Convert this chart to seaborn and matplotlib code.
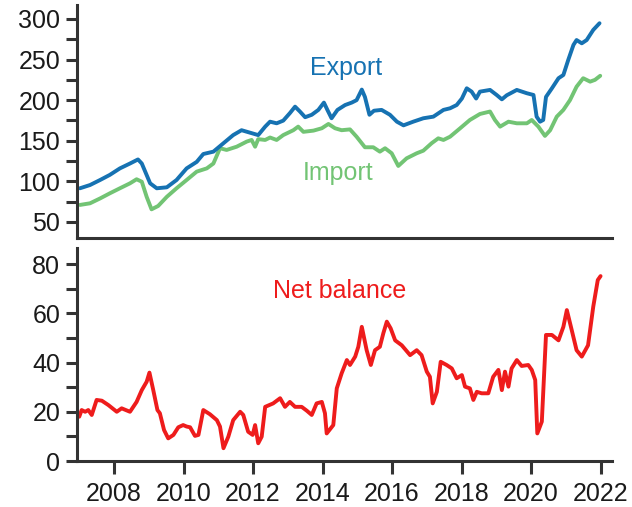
import matplotlib
matplotlib.use("Agg")
import matplotlib.pyplot as plt
from matplotlib.ticker import MultipleLocator
import pandas as pd
import seaborn as sns

# Export index (decimal year, value)
export_years = [2007.02, 2007.31, 2007.60, 2007.88, 2008.17, 2008.46, 2008.69, 2008.80,
                2009.04, 2009.23, 2009.52, 2009.80, 2010.09, 2010.38, 2010.57, 2010.86,
                2011.15, 2011.43, 2011.67, 2011.91, 2012.15, 2012.35, 2012.49, 2012.68,
                2012.87, 2013.06, 2013.21, 2013.35, 2013.50, 2013.69, 2013.88, 2014.04,
                2014.14, 2014.26, 2014.43, 2014.65, 2014.84, 2014.98, 2015.13, 2015.22,
                2015.35, 2015.48, 2015.70, 2015.94, 2016.14, 2016.33, 2016.61, 2016.90,
                2017.19, 2017.48, 2017.67, 2017.86, 2018.01, 2018.15, 2018.29, 2018.42,
                2018.53, 2018.82, 2019.01, 2019.16, 2019.30, 2019.59, 2019.88, 2020.07,
                2020.16, 2020.26, 2020.35, 2020.43, 2020.60, 2020.79, 2020.93, 2021.07,
                2021.22, 2021.31, 2021.46, 2021.60, 2021.79, 2021.97]
export_vals = [91.5, 95.5, 101.7, 108, 116, 122, 127, 122,
               97.6, 91.5, 92.7, 101.7, 116, 124, 133.7, 136.6,
               147, 157, 163, 160, 157, 167.4, 173.5, 171.5,
               174.8, 184, 192, 186, 179, 182, 188, 197,
               188, 177.7, 188, 194, 197, 200, 213, 204,
               182, 187, 188, 182, 173.5, 169, 173.5, 177.7,
               179.7, 188, 190, 194, 202, 214.6, 210.5, 202,
               210.5, 212.6, 206.4, 201, 206, 212.6, 208.5, 206.4,
               179.7, 173.5, 175.6, 204, 214.6, 227, 231, 249.5,
               268, 274, 270, 274, 286.5, 294.7]

# Import index (decimal year, value)
import_years = [2007.02, 2007.31, 2007.60, 2007.88, 2008.17, 2008.46, 2008.65, 2008.80,
                2008.94, 2009.08, 2009.27, 2009.52, 2009.80, 2010.09, 2010.38, 2010.67,
                2010.86, 2011.05, 2011.24, 2011.53, 2011.82, 2011.96, 2012.06, 2012.15,
                2012.35, 2012.49, 2012.68, 2012.87, 2013.16, 2013.30, 2013.45, 2013.74,
                2013.98, 2014.17, 2014.36, 2014.55, 2014.79, 2014.98, 2015.22, 2015.46,
                2015.65, 2015.80, 2015.99, 2016.18, 2016.42, 2016.71, 2016.90, 2017.14,
                2017.33, 2017.48, 2017.67, 2017.96, 2018.24, 2018.53, 2018.82, 2018.96,
                2019.11, 2019.35, 2019.59, 2019.88, 2020.02, 2020.21, 2020.40, 2020.55,
                2020.74, 2020.93, 2021.12, 2021.31, 2021.50, 2021.70, 2021.84, 2021.99]
import_vals = [71, 73, 79, 85.3, 91.5, 97.6, 102.6, 99.6,
               81, 65.6, 69.7, 81, 91.5, 101.7, 112, 116,
               122, 140.8, 138.7, 142.7, 149, 151, 142.7, 152,
               151, 154, 151, 157, 163, 167.4, 161, 162.5,
               165.4, 170.7, 165.4, 163, 164, 155, 142, 142,
               136.6, 140.8, 134.6, 119, 128.4, 134.6, 137.8, 147,
               153, 151, 155, 165.4, 175.6, 183, 186, 175.6,
               167.4, 173.5, 171.5, 171.5, 175.6, 167.4, 156, 163,
               179.7, 188, 200, 216.6, 227, 222.8, 225, 230]

# Net balance (decimal year, value)
net_years = [2007.00, 2007.07, 2007.17, 2007.26, 2007.36, 2007.50, 2007.65, 2007.84,
             2008.08, 2008.22, 2008.46, 2008.65, 2008.80, 2008.94, 2009.02, 2009.13,
             2009.25, 2009.32, 2009.44, 2009.56, 2009.71, 2009.85, 2009.99, 2010.09,
             2010.19, 2010.33, 2010.43, 2010.57, 2010.76, 2010.96, 2011.05, 2011.15,
             2011.29, 2011.43, 2011.63, 2011.72, 2011.86, 2011.99, 2012.06, 2012.15,
             2012.25, 2012.35, 2012.58, 2012.78, 2012.92, 2013.06, 2013.21, 2013.40,
             2013.55, 2013.69, 2013.83, 2013.98, 2014.07, 2014.12, 2014.31, 2014.41,
             2014.55, 2014.70, 2014.79, 2014.94, 2015.03, 2015.13, 2015.27, 2015.39,
             2015.51, 2015.65, 2015.75, 2015.85, 2015.96, 2016.09, 2016.28, 2016.52,
             2016.71, 2016.85, 2017.00, 2017.09, 2017.17, 2017.29, 2017.40, 2017.57,
             2017.72, 2017.86, 2018.01, 2018.10, 2018.24, 2018.34, 2018.44, 2018.58,
             2018.77, 2018.91, 2019.06, 2019.16, 2019.25, 2019.35, 2019.44, 2019.59,
             2019.73, 2019.92, 2020.02, 2020.12, 2020.18, 2020.31, 2020.43, 2020.60,
             2020.79, 2020.93, 2021.03, 2021.17, 2021.31, 2021.46, 2021.64, 2021.79,
             2021.92, 2022.00]
net_vals = [18, 20.7, 20, 20.7, 18.7, 24.8, 24.5, 22.7,
            20, 21.4, 20, 24, 28.8, 32.2, 35.9, 28.8,
            20.7, 19.4, 12.6, 9.2, 10.6, 13.7, 14.6, 14,
            13.7, 10.2, 10.6, 20.7, 19, 16.6, 14, 5.2,
            9.9, 16.6, 20, 18.7, 11.9, 10.6, 14.6, 7.2,
            9.9, 22, 23.4, 25.5, 22, 24, 22, 22,
            20.4, 18.7, 23.4, 24, 19.4, 11.2, 14.6, 29.5,
            35.6, 41, 39, 42.4, 46.4, 54.5, 45, 39,
            45, 46.4, 51.9, 56.6, 53.9, 49, 47, 43,
            45, 43, 36.3, 34.2, 23.4, 28.1, 40.3, 39,
            37.6, 33.6, 34.9, 30.2, 29.5, 24.8, 28.1, 27.5,
            27.5, 34.2, 37, 28.8, 36.3, 30.2, 37.6, 41,
            38.6, 39, 37, 32.9, 11.2, 16, 51.2, 51.2,
            49, 54.5, 61.3, 53.2, 45, 42.4, 47, 62.7,
            73.5, 75.1]

year_ticks = [2008, 2010, 2012, 2014, 2016, 2018, 2020, 2022]

EXPORT_COLOR = "#1672b2"
IMPORT_COLOR = "#72c474"
NET_COLOR = "#ee1c1c"
AXIS_COLOR = "#333333"

sns.set_style("ticks")
plt.rcParams["font.family"] = ["Liberation Sans", "DejaVu Sans"]

exp_df = pd.DataFrame({"year": export_years, "value": export_vals})
imp_df = pd.DataFrame({"year": import_years, "value": import_vals})
net_df = pd.DataFrame({"year": net_years, "value": net_vals})

fig = plt.figure(figsize=(6.32, 5.07), dpi=100)
ax1 = fig.add_axes([0.1218, 0.5306, 0.8466, 0.4596])
ax2 = fig.add_axes([0.1218, 0.0907, 0.8466, 0.4201])

lw = 2.8
sns.lineplot(data=imp_df, x="year", y="value", ax=ax1, color=IMPORT_COLOR, linewidth=lw)
sns.lineplot(data=exp_df, x="year", y="value", ax=ax1, color=EXPORT_COLOR, linewidth=lw)
sns.lineplot(data=net_df, x="year", y="value", ax=ax2, color=NET_COLOR, linewidth=lw)

xmin, xmax = 2006.935, 2022.33
for ax in (ax1, ax2):
    ax.set_xlim(xmin, xmax)
    ax.set_xlabel("")
    ax.set_ylabel("")
    sns.despine(ax=ax)
    for side in ("left", "bottom"):
        ax.spines[side].set_color(AXIS_COLOR)
        ax.spines[side].set_linewidth(2.2)
    ax.tick_params(axis="y", which="both", direction="out", length=8, width=2.2,
                   color=AXIS_COLOR, labelsize=18, labelcolor="#1a1a1a", pad=4)

ax1.set_ylim(30.3, 317.2)
ax1.yaxis.set_major_locator(MultipleLocator(50))
ax1.yaxis.set_minor_locator(MultipleLocator(25))
ax1.set_xticks([])

ax2.set_ylim(0, 86.5)
ax2.yaxis.set_major_locator(MultipleLocator(20))
ax2.yaxis.set_minor_locator(MultipleLocator(10))
ax2.set_xticks(year_ticks)
ax2.set_xticklabels([str(y) for y in year_ticks])
ax2.tick_params(axis="x", direction="out", length=9, width=2.2, color=AXIS_COLOR,
                labelsize=18, labelcolor="#1a1a1a", pad=6)

ax1.text(2014.68, 239.7, "Export", color=EXPORT_COLOR, fontsize=18,
         ha="center", va="center")
ax1.text(2014.45, 110.3, "Import", color=IMPORT_COLOR, fontsize=18,
         ha="center", va="center")
ax2.text(2014.5, 69, "Net balance", color=NET_COLOR, fontsize=18,
         ha="center", va="center")

fig.savefig("out.png", dpi=100)
